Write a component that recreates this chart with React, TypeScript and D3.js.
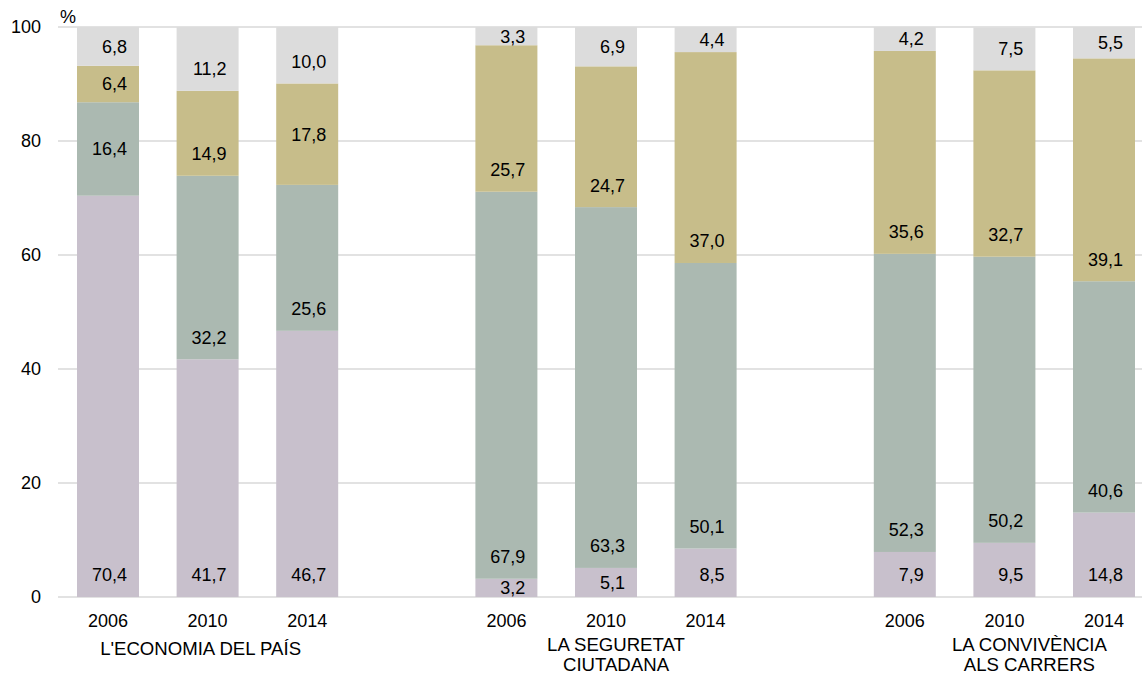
import React from "react";
import * as d3 from "d3";

const groups = ["L'ECONOMIA DEL PAÍS", "LA SEGURETAT|CIUTADANA", "LA CONVIVÈNCIA|ALS CARRERS"];
const years = ["2006", "2010", "2014"];
// series values per bar, order: Econ 2006,2010,2014, Seg 2006,2010,2014, Conv 2006,2010,2014
const serie1 = [70.4, 41.7, 46.7, 3.2, 5.1, 8.5, 7.9, 9.5, 14.8];
const serie2 = [16.4, 32.2, 25.6, 67.9, 63.3, 50.1, 52.3, 50.2, 40.6];
const serie3 = [6.4, 14.9, 17.8, 25.7, 24.7, 37.0, 35.6, 32.7, 39.1];
const serie4 = [6.8, 11.2, 10.0, 3.3, 6.9, 4.4, 4.2, 7.5, 5.5];
const yTicks = [0, 20, 40, 60, 80, 100];
// labels (bar-series) that sit centred in their segment rather than near its base
const centredLabels = ["0-1", "2-2"];

const seriesColors = ["#c8c0cc", "#abb9b1", "#c7bd8a", "#dcdcdc"];

const W = 1142;
const H = 675;

export default function App() {
  const slots: string[] = [];
  groups.forEach((g, gi) => {
    years.forEach((y) => slots.push(`${gi}-${y}`));
    if (gi < groups.length - 1) slots.push(`gap${gi}`);
  });
  const step = 99.6;
  const x = d3
    .scaleBand<string>()
    .domain(slots)
    .range([58.2, 58.2 + step * slots.length])
    .paddingInner(0.3775)
    .paddingOuter(0.3775 / 2);
  const y = d3.scaleLinear().domain([0, 100]).range([597, 27]);

  const bars = groups.flatMap((g, gi) =>
    years.map((yr, yi) => {
      const i = gi * 3 + yi;
      return { key: `${gi}-${yr}`, idx: i, values: [serie1[i], serie2[i], serie3[i], serie4[i]] };
    })
  );

  const stackKeys = ["s0", "s1", "s2", "s3"];
  const rows = bars.map((b) => ({ key: b.key, s0: b.values[0], s1: b.values[1], s2: b.values[2], s3: b.values[3] }));
  const stacked = d3.stack<any>().keys(stackKeys)(rows);

  const fmt = (v: number) => v.toFixed(1).replace(".", ",");
  const bw = x.bandwidth();
  const groupLabelDx = [-7, 10, 25];
  const font = "'Liberation Sans', Arial, sans-serif";
  const fs = 18;

  return (
    <svg width={W} height={H} style={{ position: "absolute", left: 0, top: 0 }} fontFamily={font}>
      <rect width={W} height={H} fill="#fff" />
      {yTicks.map((t) => (
        <g key={t}>
          <line x1={58} x2={W} y1={y(t)} y2={y(t)} stroke="#d9d9d9" strokeWidth={1.5} />
          <text x={41} y={y(t)} dy="0.36em" textAnchor="end" fontSize={fs} fill="#000">
            {t}
          </text>
        </g>
      ))}
      <text x={60} y={23} fontSize={fs} fill="#000">%</text>
      {stacked.map((layer, si) => (
        <g key={si}>
          {layer.map((d: any, bi: number) => (
            <rect
              key={bi}
              x={x(d.data.key)}
              width={bw}
              y={y(Math.min(d[1], 100))}
              height={y(d[0]) - y(Math.min(d[1], 100))}
              fill={seriesColors[si]}
            />
          ))}
        </g>
      ))}
      {stacked.map((layer, si) => (
        <g key={"l" + si}>
          {layer.map((d: any, bi: number) => {
            const top = y(Math.min(d[1], 100));
            const base = y(d[0]);
            const centre = (top + base) / 2;
            const centred = centredLabels.includes(`${bi}-${si}`);
            const ly = centred ? centre : Math.max(centre, base - 22);
            const cx = (x(d.data.key) as number) + bw / 2;
            return (
              <text key={bi} x={cx + 19} y={ly} dy="0.36em" textAnchor="end" fontSize={fs} fill="#000">
                {fmt(d[1] - d[0])}
              </text>
            );
          })}
        </g>
      ))}
      {bars.map((b) => (
        <text key={"y" + b.key} x={(x(b.key) as number) + bw / 2} y={627} textAnchor="middle" fontSize={fs} fill="#000">
          {years[b.idx % 3]}
        </text>
      ))}
      {groups.map((g, gi) => {
        const mid = (x(`${gi}-2010`) as number) + bw / 2 + groupLabelDx[gi];
        const lines = g.split("|");
        const y0 = lines.length === 1 ? 655 : 651;
        return (
          <text key={g} x={mid} y={y0} textAnchor="middle" fontSize={18.6} fill="#000">
            {lines.map((ln, li) => (
              <tspan key={li} x={mid} y={y0 + li * 20}>
                {ln}
              </tspan>
            ))}
          </text>
        );
      })}
    </svg>
  );
}
